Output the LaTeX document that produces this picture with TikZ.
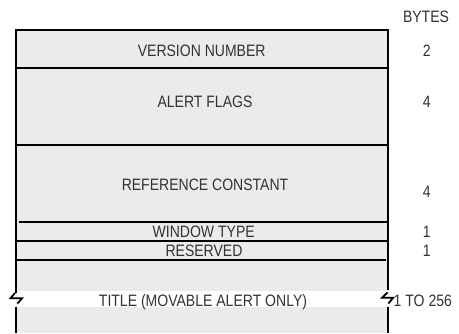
\documentclass[tikz,border=0pt]{standalone}
\usepackage{fontspec}
\setmainfont{Liberation Sans}[FakeStretch=0.85]
\definecolor{textgray}{RGB}{50,50,50}
\definecolor{fieldgray}{RGB}{235,235,235}
\begin{document}
\begin{tikzpicture}[x=1pt,y=-1pt,
  lbl/.style={font=\fontsize{16.5}{18}\selectfont, text=textgray, inner sep=0pt, anchor=base},
  rule/.style={line width=2pt, draw=black},
  zig/.style={line width=1.8pt, draw=black}]
\useasboundingbox (0,0) rectangle (459,333);

% record background and the white gap of the variable-length title field
\fill[fieldgray] (16,30) rectangle (387.7,333);
\fill[white] (17,291) rectangle (386.7,306.5);

% outer frame, broken where the title field may vary in length
\draw[rule] (16,333) -- (16,306.7);
\draw[rule] (16,292.7) -- (16,30) -- (387.7,30) -- (387.7,290);
\draw[rule] (387.7,307) -- (387.7,333);

% field separators
\draw[rule] (16,68.3) -- (387.7,68.3);
\draw[rule] (16,145) -- (387.7,145);
\draw[rule] (19,221.8) -- (387.7,221.8);
\draw[rule] (16,240.8) -- (387.7,240.8);
\draw[rule] (16,260.2) -- (385.7,260.2);

% break marks
\draw[zig] (15,293) -- (10.5,298.3) -- (22,298.3) -- (17.5,303.5);
\draw[zig] (387.5,292.5) -- (382,297.8) -- (393,297.8) -- (388.5,303.5);

% field names
\node[lbl] (version)   at (201.7,56.8)  {VERSION NUMBER};
\node[lbl] (flags)     at (205,107.5)   {ALERT FLAGS};
\node[lbl] (refconst)  at (205,190)     {REFERENCE CONSTANT};
\node[lbl] (wintype)   at (203.7,237.5) {WINDOW TYPE};
\node[lbl] (reserved)  at (204,256.8)   {RESERVED};
\node[lbl] (title)     at (203,306)     {TITLE (MOVABLE ALERT ONLY)};

% sizes in bytes
\node[lbl] (bytes)     at (426,22.8)    {BYTES};
\node[lbl] (szversion) at (426.7,56.8)  {2};
\node[lbl] (szflags)   at (426.7,107.5) {4};
\node[lbl] (szref)     at (426.7,197)   {4};
\node[lbl] (szwin)     at (426.7,237.5) {1};
\node[lbl] (szres)     at (426.7,256.8) {1};
\node[lbl, anchor=base west] (sztitle) at (393.5,306) {1 TO 256};
\end{tikzpicture}
\end{document}
